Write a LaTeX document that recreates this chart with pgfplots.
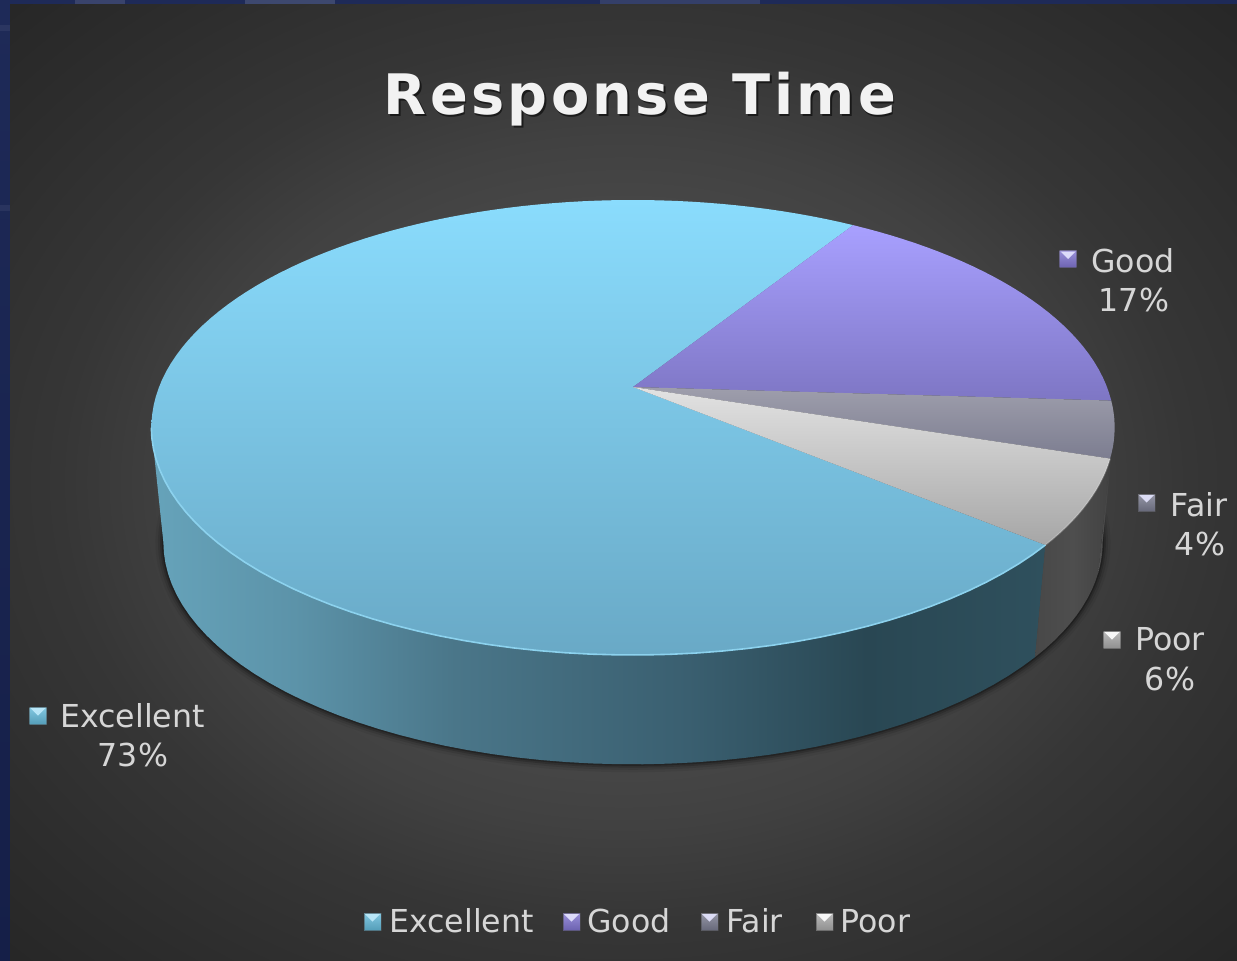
\documentclass[border=0pt]{standalone}
\usepackage{fontspec}
\setmainfont{DejaVu Sans}
\usepackage{pgfplots}
\usepackage{pgfplotstable}
\pgfplotsset{compat=1.18}

\definecolor{navy}{HTML}{1E2A58}
\definecolor{navyDeep}{HTML}{151F48}
\definecolor{labeltext}{HTML}{D6D6D6}
\definecolor{titletext}{HTML}{F2F2F2}
\definecolor{panelA}{HTML}{505050}
\definecolor{panelB}{HTML}{4A4A4A}
\definecolor{panelC}{HTML}{414141}
\definecolor{panelD}{HTML}{363636}
\definecolor{panelE}{HTML}{2D2D2D}
\definecolor{panelF}{HTML}{262626}
% Top-face gradients
\definecolor{exTop}{RGB}{138,220,253}
\definecolor{exBot}{RGB}{105,169,198}
\definecolor{goTop}{RGB}{168,160,255}
\definecolor{goBot}{RGB}{126,118,196}
\definecolor{faTop}{RGB}{158,158,172}
\definecolor{faBot}{RGB}{124,125,144}
\definecolor{poTop}{RGB}{226,226,226}
\definecolor{poBot}{RGB}{166,166,166}
\definecolor{exRim}{RGB}{140,210,238}
% Legend key colours
\definecolor{keyEx}{RGB}{100,186,218}
\definecolor{keyGo}{RGB}{128,116,208}
\definecolor{keyFa}{RGB}{122,124,144}
\definecolor{keyPo}{RGB}{170,170,170}

\pgfdeclareradialshading{panelglow}{\pgfpoint{0bp}{0bp}}{%
  color(0bp)=(panelA);
  color(12bp)=(panelB);
  color(18bp)=(panelC);
  color(23bp)=(panelD);
  color(30bp)=(panelE);
  color(36bp)=(panelF);
  color(50bp)=(panelF)}

% The wall of the largest slice, lit from the left and dark towards the right.
\definecolor{wa}{HTML}{66A3BA}
\definecolor{wb}{HTML}{5C93A9}
\definecolor{wc}{HTML}{4A7689}
\definecolor{wd}{HTML}{3A5F70}
\definecolor{we}{HTML}{294753}
\definecolor{wf}{HTML}{2F505D}
\pgfdeclarehorizontalshading{excellentwall}{100bp}{%
  color(0bp)=(wa);
  color(25bp)=(wa);
  color(33bp)=(wb);
  color(42bp)=(wc);
  color(55bp)=(wd);
  color(65bp)=(we);
  color(75bp)=(wf);
  color(100bp)=(wf)}
\definecolor{pa}{HTML}{484848}
\definecolor{pb}{HTML}{4E4E4E}
\definecolor{pc}{HTML}{424242}
\pgfdeclarehorizontalshading{poorwall}{100bp}{%
  color(0bp)=(pa);
  color(25bp)=(pa);
  color(50bp)=(pb);
  color(75bp)=(pc);
  color(100bp)=(pc)}

% Slice shares, in percent
\pgfplotstableread{
share
73
17
4
6
}\sharetable

% Perspective of the pie: centre, half axes and foreshortening
\def\cx{633}
\def\cy{387}
\def\persp{0.178}
\def\Bx{474}
\def\Ay{220.3}
\def\baseC{542}
\def\faceC{427}
\def\sc{0.975}

\newcommand{\facepoint}[1]{%
  \pgfmathsetmacro\pd{1+\persp*sin(#1)}%
  \pgfmathsetmacro\px{\cx+\Bx*cos(#1)/\pd}%
  \pgfmathsetmacro\py{\cy-\Ay*sin(#1)/\pd}}
\newcommand{\basepoint}[1]{%
  \facepoint{#1}%
  \pgfmathsetmacro\px{\cx+\sc*(\px-\cx)}%
  \pgfmathsetmacro\py{\baseC+\sc*(\py-\faceC)}}
% Appends an arc to a coordinate list: list, from, to, steps, point macro
\newcommand{\appendarc}[5]{%
  \foreach \i in {0,...,#4}{%
    \pgfmathsetmacro\a{#2+(#3-#2)*(\i/#4)}%
    #5{\a}%
    \xdef#1{#1 (\px,\py)}%
  }}
\newcommand{\wedgelist}[4]{% list, from, to, steps
  \xdef#1{(\cx,\cy)}\appendarc{#1}{#2}{#3}{#4}{\facepoint}}
\newcommand{\walllist}[4]{% list, from, to, steps
  \xdef#1{}\appendarc{#1}{#2}{#3}{#4}{\facepoint}\appendarc{#1}{#3}{#2}{#4}{\basepoint}}
\newcommand{\plotlist}[2]{% options, list: closed shape
  \edef\tmpplot{\noexpand\addplot[#1] coordinates {#2} --cycle;}\tmpplot}
\newcommand{\plotline}[2]{% options, list: open line
  \edef\tmpplot{\noexpand\addplot[#1] coordinates {#2};}\tmpplot}

% Bevelled legend key: left, top, fill, highlight
\newcommand{\legkey}[4]{%
  \fill[draw=black!70,draw opacity=0.5,line width=0.4pt,top color=#3!80!white,bottom color=#3!85!black]
     (#1,#2) rectangle (#1+17,#2+17);
  \fill[#4,opacity=0.9] (#1+1,#2+1) -- (#1+16,#2+1) -- (#1+8.5,#2+8.5) -- cycle;}

\begin{document}
\begin{tikzpicture}
\pgfplotstablegetelem{0}{share}\of\sharetable\let\vE\pgfplotsretval
\pgfplotstablegetelem{1}{share}\of\sharetable\let\vG\pgfplotsretval
\pgfplotstablegetelem{2}{share}\of\sharetable\let\vF\pgfplotsretval
\pgfplotstablegetelem{3}{share}\of\sharetable\let\vP\pgfplotsretval
% Slice boundaries, running clockwise from the Excellent/Good edge
\pgfmathsetmacro\aG{57.7}
\pgfmathsetmacro\aF{\aG-3.6*\vG}
\pgfmathsetmacro\aP{\aF-3.6*\vF}
\pgfmathsetmacro\aE{\aP-3.6*\vP}
\pgfmathsetmacro\aEnd{\aE-3.6*\vE}
\def\tanL{-169.7}
\def\tanR{-10.3}
\wedgelist{\topE}{\aE}{\aEnd}{120}
\wedgelist{\topG}{\aG}{\aF}{30}
\wedgelist{\topF}{\aF}{\aP}{10}
\wedgelist{\topP}{\aP}{\aE}{14}
\walllist{\wallE}{\aE}{\tanL}{50}
\walllist{\wallP}{\aE}{\aP}{10}
\walllist{\wallF}{\aP}{\tanR}{6}
\xdef\rimE{}\appendarc{\rimE}{\aE}{\tanL}{50}{\facepoint}
\xdef\rimP{}\appendarc{\rimP}{\aP}{\aE}{14}{\facepoint}
\xdef\shadowarc{}\appendarc{\shadowarc}{-4}{-176}{60}{\basepoint}
\begin{axis}[
  scale only axis, width=618.5pt, height=480pt,
  xmin=0, xmax=1237, ymin=0, ymax=960, y dir=reverse,
  hide axis, clip=false]

% Slide background and chart panel
\fill[navy] (0,0) rectangle (1237,960);
\fill[top color=navy,bottom color=navyDeep] (0,0) rectangle (10,960);
\fill[white,opacity=0.12] (75,0) rectangle (125,4);
\fill[white,opacity=0.14] (245,0) rectangle (335,4);
\fill[white,opacity=0.10] (600,0) rectangle (760,4);
\fill[white,opacity=0.06] (0,25) rectangle (10,31);
\fill[white,opacity=0.06] (0,205) rectangle (10,211);
\fill[shading=panelglow] (10,4) rectangle (1237,960);

% Soft shadow under the pie
\plotline{no markers,black,opacity=0.06,line width=8pt,line cap=round}{\shadowarc}
\plotline{no markers,black,opacity=0.10,line width=5.5pt,line cap=round}{\shadowarc}
\plotline{no markers,black,opacity=0.16,line width=3.4pt,line cap=round}{\shadowarc}
\plotline{no markers,black,opacity=0.24,line width=1.6pt,line cap=round}{\shadowarc}

% Outer walls
\plotlist{no markers,draw=none,shading=excellentwall}{\wallE}
\plotlist{no markers,draw=none,shading=poorwall}{\wallP}
\plotlist{no markers,draw=none,left color=black!68,right color=black!78}{\wallF}

% Top faces
\plotlist{no markers,draw=none,top color=exTop,bottom color=exBot}{\topE}
\plotlist{no markers,draw=none,top color=goTop,bottom color=goBot}{\topG}
\plotlist{no markers,draw=none,top color=faTop,bottom color=faBot}{\topF}
\plotlist{no markers,draw=none,top color=poTop,bottom color=poBot}{\topP}

% Lit rim along the front of the faces
\plotline{no markers,color=exRim,line width=0.8pt}{\rimE}
\plotline{no markers,color=white,opacity=0.2,line width=0.8pt}{\rimP}

% Title with its shadow
\node[anchor=base,text=black,opacity=0.55,font=\fontsize{27.9}{30}\bfseries\addfontfeatures{LetterSpace=6}] at (641.5,116.5) {Response Time};
\node[anchor=base,text=titletext,font=\fontsize{27.9}{30}\bfseries\addfontfeatures{LetterSpace=6}] at (640,114.5) {Response Time};

% Data labels
\tikzset{lab/.style={anchor=base,text=labeltext,font=\fontsize{15.8}{18}\selectfont,inner sep=0pt}}
\node[lab] at (1133,272) {Good};
\node[lab] at (1134,311) {\vG\%};
\node[lab] at (1199,516) {Fair};
\node[lab] at (1200,555) {\vF\%};
\node[lab] at (1170,650) {Poor};
\node[lab] at (1170,690) {\vP\%};
\node[lab] at (132.5,727) {Excellent};
\node[lab] at (133,766) {\vE\%};
\legkey{1059.5}{250.5}{keyGo}{white!90!blue}
\legkey{1138}{494}{keyFa}{white!90!blue}
\legkey{1103.5}{631}{keyPo}{white}
\legkey{29.5}{707}{keyEx}{white!75!cyan}

% Legend
\node[lab,anchor=base west] at (389,932) {Excellent};
\node[lab,anchor=base west] at (587,932) {Good};
\node[lab,anchor=base west] at (726,932) {Fair};
\node[lab,anchor=base west] at (840,932) {Poor};
\legkey{364}{913}{keyEx}{white!75!cyan}
\legkey{563}{913}{keyGo}{white!90!blue}
\legkey{701}{913}{keyFa}{white!90!blue}
\legkey{816}{913}{keyPo}{white}
\end{axis}
\end{tikzpicture}
\end{document}
